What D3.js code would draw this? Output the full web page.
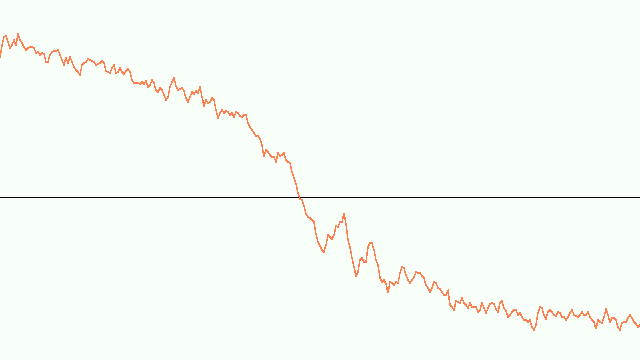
<!DOCTYPE html>
<html>
<head>
<meta charset="utf-8">
<script src="https://cdn.jsdelivr.net/npm/d3@7"></script>
<style>
  html, body { margin: 0; padding: 0; background: #f8fff8; }
  svg { display: block; }
</style>
</head>
<body>
<svg id="chart" width="640" height="360"></svg>
<script>
// Series values sampled at regular steps (step index 0..320), baseline = 0
const values = [
  139,152,160,161,155,149,152,157,151,164,157,154,150,147,149,150,150,149,144,145,142,144,143,135,135,142,145,146,146,147,142,137,132,139,134,140,135,130,127,125,122,
  132,134,135,138,137,136,135,132,133,134,136,134,126,125,124,129,132,124,125,129,125,123,126,128,125,117,114,114,114,113,115,113,116,110,112,117,114,107,105,109,
  107,102,97,100,110,115,119,111,107,108,109,106,99,95,100,105,103,106,104,110,100,91,97,94,95,99,97,87,79,84,87,84,86,85,82,84,80,85,84,81,
  80,82,82,74,70,67,64,61,61,58,52,40,47,45,42,40,40,35,44,41,42,44,37,35,34,25,19,13,4,-2,-3,-9,-17,-20,-21,-23,-25,-37,-45,-49,
  -53,-55,-48,-38,-40,-42,-38,-29,-30,-25,-25,-16,-27,-43,-50,-61,-70,-79,-75,-63,-61,-65,-65,-50,-46,-46,-53,-63,-68,-81,-85,-83,-87,-96,-85,-86,-88,-85,-86,-76,-70,-71,-78,-83,-86,-83,-80,-75,-76,-76,-79,-81,-88,-91,-95,-91,-85,-86,-91,-92,
  -95,-98,-98,-94,-108,-110,-113,-104,-105,-106,
  -101,-106,-108,-111,-106,-110,-110,-110,-115,-113,
  -106,-111,-116,-111,-107,-106,-107,-112,-115,-106,
  -104,-111,-114,-120,-118,-115,-113,-113,-118,-116,
  -120,-123,-123,-125,-123,-130,-133,-128,-116,-110,
  -111,-118,-122,-115,-113,-115,-118,-119,-115,-116,
  -120,-120,-123,-120,-116,-113,-118,-119,-120,-118,
  -115,-118,-118,-115,-120,-123,-125,-132,-123,-125,
  -126,-120,-112,-118,-125,-121,-121,-123,-130,-133,
  -126,-125,-125,-121,-118,-121,-125,-127,-130,-128
];
const baseline = [0];
const yDomain = [-163, 197];

const W = 640, H = 360;
const svg = d3.select("#chart");

const x = d3.scaleLinear().domain([0, values.length - 1]).range([0, W]);
const y = d3.scaleLinear().domain(yDomain).range([H, 0]);

svg.append("rect").attr("width", W).attr("height", H).attr("fill", "#f8fff8");

svg.selectAll("line.base").data(baseline).join("line")
  .attr("class", "base")
  .attr("x1", 0).attr("x2", W)
  .attr("y1", d => Math.round(y(d)) + 0.5).attr("y2", d => Math.round(y(d)) + 0.5)
  .attr("stroke", "#000").attr("stroke-width", 1);

const line = d3.line().x((d, i) => x(i)).y(d => y(d));

svg.append("path")
  .datum(values)
  .attr("d", line)
  .attr("fill", "none")
  .attr("stroke", "#ff7f50")
  .attr("stroke-width", 1.5)
  .attr("shape-rendering", "crispEdges")
  .attr("stroke-linejoin", "miter");
</script>
</body>
</html>
